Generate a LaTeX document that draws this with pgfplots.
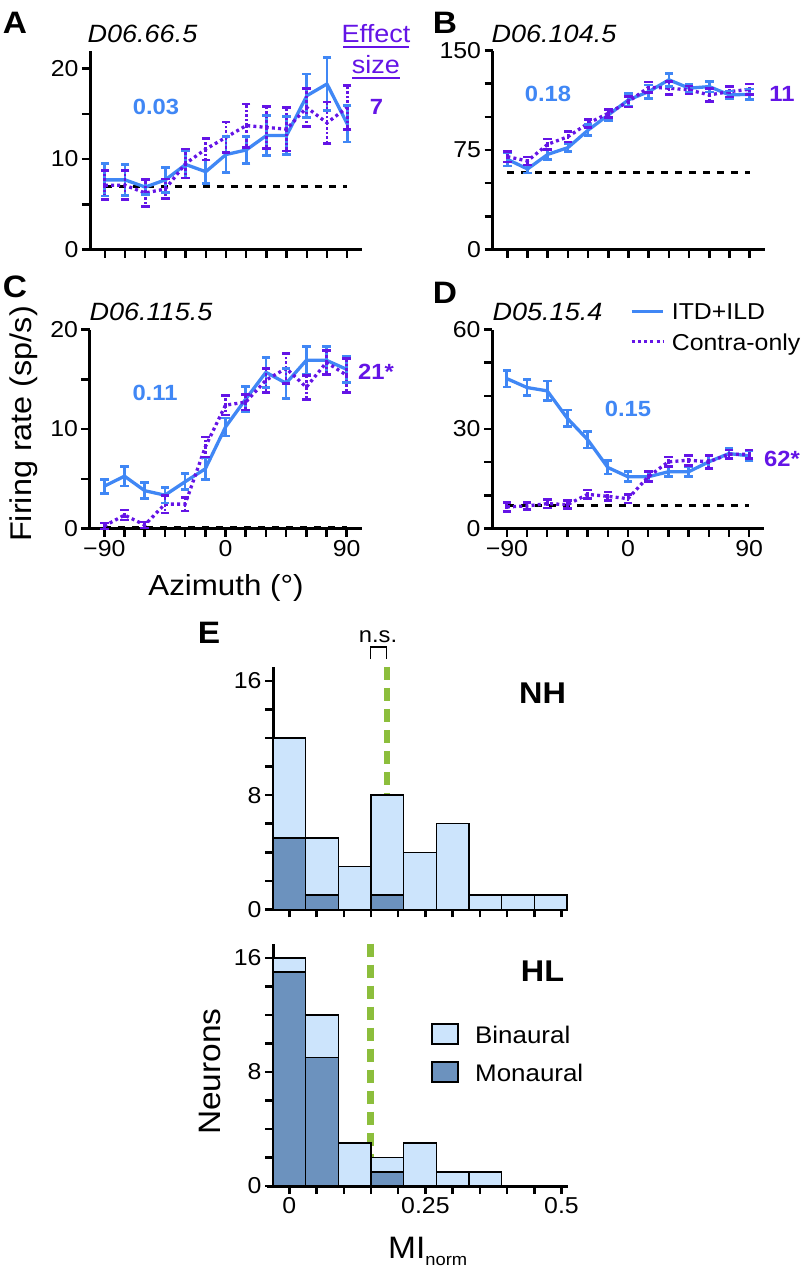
\documentclass[border=0pt]{standalone}
\usepackage{fontspec}
\setmainfont{Liberation Sans}[FakeStretch=1.08]
\usepackage{pgfplots}
\usepackage{pgfplotstable}
\usetikzlibrary{plotmarks}
\pgfplotsset{compat=1.18}

\definecolor{itd}{RGB}{64,135,245}
\definecolor{contra}{RGB}{100,20,230}
\definecolor{binl}{RGB}{204,228,252}
\definecolor{monl}{RGB}{108,146,190}
\definecolor{mgreen}{RGB}{140,190,60}

\newcommand{\fs}[1]{\fontsize{#1}{#1}\selectfont}

% panel A
\pgfplotstableread{
x y e
-90 7.7 1.8
-75 7.7 1.7
-60 6.9 0.8
-45 7.7 1.4
-30 9.4 1.5
-15 8.6 1.3
0 10.5 2.0
15 11.0 1.5
30 12.6 2.2
45 12.6 2.1
60 17.0 2.4
75 18.3 2.9
90 13.9 2.0
}\Aitd
\pgfplotstableread{
x y e
-90 7.1 1.6
-75 7.1 1.6
-60 6.25 1.5
-45 6.7 1.1
-30 9.5 1.6
-15 11.1 1.2
0 12.4 1.7
15 13.7 2.4
30 13.5 2.3
45 13.3 2.4
60 15.7 2.1
75 14.0 2.3
90 15.7 2.4
}\Acon
% panel B
\pgfplotstableread{
x y e
-90 68 5
-75 60.7 3
-60 71.7 4
-45 76.8 3
-30 90 4
-15 101.4 4
0 112.8 5
15 119 5
30 127.9 5
45 121.6 3
60 122.8 4
75 116.5 3
90 117 4
}\Bitd
\pgfplotstableread{
x y e
-90 70 4
-75 66.7 3
-60 79.3 4
-45 85 4
-30 95.1 3
-15 102.7 3
0 111.5 4
15 122.3 4
30 121.6 5
45 120.3 3
60 116.5 5
75 119 4
90 120.8 4
}\Bcon
% panel C
\pgfplotstableread{
x y e
-90 4.25 0.7
-75 5.26 1.0
-60 3.8 0.8
-45 3.35 0.8
-30 4.7 0.8
-15 6.0 1.1
0 10.2 0.9
15 13.0 1.3
30 15.7 1.5
45 14.6 1.5
60 16.9 1.4
75 16.9 1.4
90 16.0 1.3
}\Citd
\pgfplotstableread{
x y e
-90 0.25 0.3
-75 1.35 0.5
-60 0.35 0.3
-45 2.45 0.9
-30 2.45 0.7
-15 8.2 1.0
0 12.4 1.0
15 12.7 0.8
30 14.9 1.2
45 16.1 1.5
60 14.2 1.2
75 16.7 1.2
90 15.4 1.7
}\Ccon
% panel D
\pgfplotstableread{
x y e
-90 45.2 2.5
-75 42.5 2.5
-60 41.5 3
-45 33.2 2.5
-30 26.8 2.5
-15 18.4 2
0 15.6 1.5
15 15.6 1.5
30 17.1 1.5
45 17.1 1.5
60 20.1 2
75 22.6 1.5
90 21.9 1.5
}\Ditd
\pgfplotstableread{
x y e
-90 6.5 1.3
-75 6.8 1.0
-60 7.5 1.3
-45 7.2 1.2
-30 10.3 1.3
-15 9.7 1.3
0 9.0 1.3
15 15.6 1.5
30 20.1 1.5
45 20.6 1.5
60 20.1 2
75 22.4 1.3
90 22.4 1.3
}\Dcon
% panel E (monaural + binaural, stacked)
\pgfplotstableread{
x mon bin
0 5 7
0.06 1 4
0.12 0 3
0.18 1 7
0.24 0 4
0.30 0 6
0.36 0 1
0.42 0 1
0.48 0 1
}\NH
\pgfplotstableread{
x mon bin
0 15 1
0.06 9 3
0.12 0 3
0.18 1 1
0.24 0 3
0.30 0 1
0.36 0 1
0.42 0 0
0.48 0 0
}\HL

\pgfplotsset{
  base/.style={
    scale only axis, clip=false,
    axis x line=bottom, axis y line=left,
    axis line style={-, line width=3pt},
    tick style={line width=2.5pt, black},
    tick align=outside, major tick length=8pt,
    tick label style={font=\fs{23}},
    /pgf/number format/assume math mode=true,
    ymin=0,
  },
  tune/.style={base, width=272pt, height=199pt, xmin=-101, xmax=101,
    xtick={-90,-75,...,90}, xticklabels={}},
  itdplot/.style={itd, line width=3.3pt, line join=round, mark=none,
    error bars/y dir=both, error bars/y explicit,
    error bars/error mark=none,
    error bars/error bar style={line width=2.7pt, itd, solid}},
  conplot/.style={contra, line width=3.3pt, dash pattern=on 3pt off 3.2pt, mark=none,
    error bars/y dir=both, error bars/y explicit,
    error bars/error mark=none,
    error bars/error bar style={line width=2.7pt, contra, dash pattern=on 2.5pt off 2pt}},
  itdcap/.style={only marks, mark=-, mark size=4.3pt,
    mark options={itd, solid, line width=2.7pt}},
  concap/.style={only marks, mark=-, mark size=4.3pt,
    mark options={contra, solid, line width=2.7pt}},
  basel/.style={black, line width=2.8pt, dash pattern=on 7pt off 7pt, mark=none},
  hist/.style={base, width=295pt, height=242.5pt, xmin=-0.03, xmax=0.512, ymax=17,
    ybar stacked, bar width=0.06,
    xtick={0,0.05,...,0.5}, ytick={0,2,...,16}, yticklabels={0,,,,8,,,,16}},
}

% line with error bars and caps at y +- e
\newcommand{\series}[2]{%
  \addplot[#1plot] table[x=x, y=y, y error=e] {#2};
  \addplot[#1cap] table[x=x, y expr=\thisrow{y}+\thisrow{e}] {#2};
  \addplot[#1cap] table[x=x, y expr=\thisrow{y}-\thisrow{e}] {#2};
}

\begin{document}
\begin{tikzpicture}
\useasboundingbox (0pt,0pt) rectangle (806pt,-1279pt);

% ---- A ----
\begin{axis}[tune, at={(90pt,-249.5pt)}, anchor=south west, ymax=22,
  ytick={0,5,...,20}, yticklabels={0,,10,,20}]
\addplot[basel] coordinates {(-90,7) (90,7)};
\series{itd}{\Aitd}
\series{con}{\Acon}
\draw[line width=3pt] (axis cs:-106.5,0) -- (axis cs:-101,0);
\end{axis}

% ---- B ----
\begin{axis}[tune, at={(492.5pt,-249.5pt)}, anchor=south west, ymax=150,
  ytick={0,25,...,150}, yticklabels={0,,,75,,,150}]
\addplot[basel] coordinates {(-90,58) (90,58)};
\series{itd}{\Bitd}
\series{con}{\Bcon}
\draw[line width=3pt] (axis cs:-106.5,0) -- (axis cs:-101,0);
\end{axis}

% ---- C ----
\begin{axis}[tune, at={(89.5pt,-528.5pt)}, anchor=south west, ymax=20,
  ytick={0,5,...,20}, yticklabels={0,,10,,20},
  xticklabels={−90,,,,,,0,,,,,,90}]
\addplot[basel] coordinates {(-90,0.1) (90,0.1)};
\series{itd}{\Citd}
\series{con}{\Ccon}
\draw[line width=3pt] (axis cs:-106.5,0) -- (axis cs:-101,0);
\end{axis}

% ---- D ----
\begin{axis}[tune, at={(492pt,-528.5pt)}, anchor=south west, ymax=60,
  ytick={0,10,...,60}, yticklabels={0,,,30,,,60},
  xticklabels={−90,,,,,,0,,,,,,90}]
\addplot[basel] coordinates {(-90,7) (90,7)};
\series{itd}{\Ditd}
\series{con}{\Dcon}
\draw[line width=3pt] (axis cs:-106.5,0) -- (axis cs:-101,0);
\end{axis}

% ---- E: NH ----
\begin{axis}[hist, at={(273pt,-909.3pt)}, anchor=south west, xticklabels={}]
\addplot[fill=monl, draw=black, line width=1.5pt] table[x=x, y=mon] {\NH};
\addplot[fill=binl, draw=black, line width=1.5pt] table[x=x, y=bin] {\NH};
\draw[mgreen, line width=6.5pt, dash pattern=on 13pt off 8pt] (axis cs:0.179,17) -- (axis cs:0.179,0);
\draw[line width=3pt] (axis cs:-0.0415,0) -- (axis cs:-0.03,0);
\end{axis}

% ---- E: HL ----
\begin{axis}[hist, at={(273pt,-1186pt)}, anchor=south west,
  xticklabels={0,,,,,0.25,,,,,0.5}]
\addplot[fill=monl, draw=black, line width=1.5pt] table[x=x, y=mon] {\HL};
\addplot[fill=binl, draw=black, line width=1.5pt] table[x=x, y=bin] {\HL};
\draw[mgreen, line width=6.5pt, dash pattern=on 13pt off 8pt] (axis cs:0.149,17) -- (axis cs:0.149,0);
\draw[line width=3pt] (axis cs:-0.0415,0) -- (axis cs:-0.03,0);
\end{axis}

% ---- texts ----
\node[anchor=base, font=\fs{31}\bfseries] at (15pt,-33.3pt) {A};
\node[anchor=base, font=\fs{25}\itshape] at (142.5pt,-42.7pt) {D06.66.5};
\node[anchor=base, font=\fs{25}, contra] at (376pt,-42.7pt) {Effect};
\node[anchor=base, font=\fs{25}, contra] at (376pt,-74pt) {size};
\draw[contra, line width=1.8pt] (343pt,-47pt) -- (409pt,-47pt);
\draw[contra, line width=1.8pt] (352pt,-78pt) -- (400pt,-78pt);
\node[anchor=base, font=\fs{22}\bfseries, itd] at (156pt,-114pt) {0.03};
\node[anchor=base, font=\fs{22}\bfseries, contra] at (376.5pt,-114pt) {7};

\node[anchor=base, font=\fs{31}\bfseries] at (445pt,-33.3pt) {B};
\node[anchor=base, font=\fs{25}\itshape] at (554pt,-42.7pt) {D06.104.5};
\node[anchor=base, font=\fs{22}\bfseries, itd] at (548pt,-101.7pt) {0.18};
\node[anchor=base, font=\fs{22}\bfseries, contra] at (782pt,-101.7pt) {11};

\node[anchor=base, font=\fs{31}\bfseries] at (15pt,-297pt) {C};
\node[anchor=base, font=\fs{25}\itshape] at (151pt,-320pt) {D06.115.5};
\node[anchor=base, font=\fs{22}\bfseries, itd] at (155pt,-400pt) {0.11};
\node[anchor=base, font=\fs{22}\bfseries, contra] at (376pt,-379.3pt) {21*};

\node[anchor=base, font=\fs{31}\bfseries] at (445pt,-303pt) {D};
\node[anchor=base, font=\fs{25}\itshape] at (547.5pt,-320pt) {D05.15.4};
\node[anchor=base, font=\fs{22}\bfseries, itd] at (628pt,-416.7pt) {0.15};
\node[anchor=base, font=\fs{22}\bfseries, contra] at (782pt,-466pt) {62*};

\draw[itd, line width=3.3pt] (631.7pt,-311.7pt) -- (663.3pt,-311.7pt);
\draw[contra, line width=3.3pt, dash pattern=on 3pt off 3.2pt] (631.7pt,-341.7pt) -- (663.3pt,-341.7pt);
\node[anchor=base west, inner sep=0pt, font=\fs{23}] at (671.7pt,-319.3pt) {ITD+ILD};
\node[anchor=base west, inner sep=0pt, font=\fs{23}] at (671.7pt,-350pt) {Contra-only};

\node[anchor=base, font=\fs{29}] at (226pt,-595pt) {Azimuth (°)};
\node[anchor=base, rotate=90, font=\fs{30}] at (31pt,-424pt) {Firing rate (sp/s)};

\node[anchor=base, font=\fs{31}\bfseries] at (209pt,-643pt) {E};
\node[anchor=base, font=\fs{22}] at (378pt,-642.3pt) {n.s.};
\draw[line width=1.5pt] (370.7pt,-659pt) -- (370.7pt,-647pt) -- (386.7pt,-647pt) -- (386.7pt,-659pt);
\node[anchor=base, font=\fs{30}\bfseries] at (542.5pt,-703.3pt) {NH};
\node[anchor=base, font=\fs{30}\bfseries] at (542.5pt,-981.7pt) {HL};

\draw[fill=binl, line width=1.8pt] (431.7pt,-1024.3pt) rectangle (458.3pt,-1044.3pt);
\draw[fill=monl, line width=1.8pt] (431.7pt,-1061.7pt) rectangle (458.3pt,-1081.7pt);
\node[anchor=base west, inner sep=0pt, font=\fs{24}] at (475pt,-1043.3pt) {Binaural};
\node[anchor=base west, inner sep=0pt, font=\fs{24}] at (475pt,-1081.7pt) {Monaural};

\node[anchor=base, rotate=90, font=\fs{31}] at (220pt,-1071.7pt) {Neurons};
\node[anchor=base west, inner sep=0pt, font=\fs{31}] at (388pt,-1258.3pt) {MI\raisebox{-7pt}{\fs{17}norm}};
\end{tikzpicture}
\end{document}
